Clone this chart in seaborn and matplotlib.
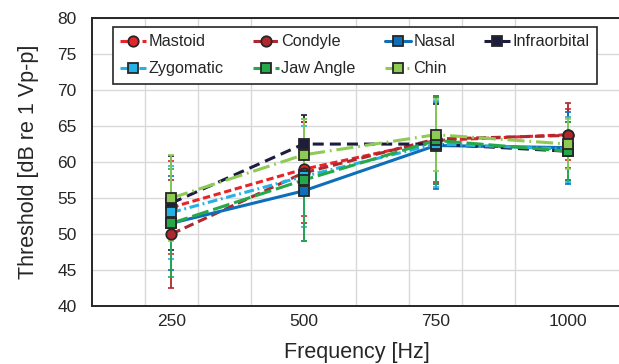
import numpy as np
import pandas as pd
import seaborn as sns
import matplotlib.pyplot as plt

sns.set_style("whitegrid")
plt.rcParams['font.family'] = ['Liberation Sans', 'DejaVu Sans']

# Data
freqs = [250, 500, 750, 1000]
sites = ['Mastoid', 'Condyle', 'Nasal', 'Infraorbital', 'Zygomatic', 'Jaw Angle', 'Chin']

mastoid = [53.7, 59.0, 63.0, 63.8]
condyle = [50.0, 58.5, 63.2, 63.7]
nasal = [51.5, 56.0, 62.3, 62.0]
infraorbital = [54.3, 62.5, 62.5, 61.5]
zygomatic = [53.0, 58.0, 62.5, 61.8]
jaw_angle = [51.5, 57.5, 63.0, 61.5]
chin = [55.0, 61.0, 63.8, 62.5]

mastoid_sd = [6.5, 6.5, 6.0, 3.5]
condyle_sd = [7.5, 7.0, 6.0, 4.5]
nasal_sd = [6.5, 7.0, 6.0, 5.0]
infraorbital_sd = [6.5, 4.0, 5.5, 4.0]
zygomatic_sd = [6.4, 7.0, 6.0, 4.5]
jaw_angle_sd = [7.5, 8.5, 6.0, 4.0]
chin_sd = [6.0, 5.0, 5.0, 3.5]

means = [mastoid, condyle, nasal, infraorbital, zygomatic, jaw_angle, chin]
sds = [mastoid_sd, condyle_sd, nasal_sd, infraorbital_sd, zygomatic_sd, jaw_angle_sd, chin_sd]

colors = ['#E8242B', '#B0282D', '#0E6FB8', '#1C1C40', '#22B2E6', '#25A84A', '#8DCB55']
markers = ['o', 'o', 's', 's', 's', 's', 's']
dash_styles = [(2.4, 1.2), (3.2, 1.6), '', (3.6, 2.0), (3.2, 1.2, 0.6, 1.2),
               (5.6, 1.6), (5.6, 1.6, 0.6, 1.6)]

fig = plt.figure(figsize=(6.19, 3.64), dpi=100)
ax = fig.add_axes([0.1486, 0.159, 0.8545, 0.7915])

handles = []
for site, m, sd, c, mk, ds in zip(sites, means, sds, colors, markers, dash_styles):
    df = pd.DataFrame({'freq': freqs, 'thr': m})
    ax.errorbar(freqs, m, yerr=sd, fmt='none', ecolor=c, elinewidth=1.3,
                capsize=2.0, capthick=1.2, zorder=2)
    sns.lineplot(data=df, x='freq', y='thr', ax=ax, color=c, lw=2.2,
                 marker=mk, markersize=7.5, markerfacecolor=c,
                 markeredgecolor='#262626', markeredgewidth=1.3,
                 label=site, zorder=3)
    line = ax.lines[-1]
    if ds:
        line.set_dashes(ds)
    else:
        line.set_linestyle('-')
    handles.append(line)

ax.set_xlim(100, 1100)
ax.set_ylim(40, 80)
ax.set_xticks(freqs)
ax.set_xticks(np.arange(200, 1101, 100), minor=True)
ax.set_yticks(np.arange(40, 81, 5))
ax.grid(False)
ax.grid(which='minor', axis='x', color='#d9d9d9', lw=1.0)
ax.grid(which='major', axis='y', color='#d9d9d9', lw=1.0)
ax.tick_params(axis='both', length=0, labelsize=12.5, labelcolor='#262626')
ax.tick_params(axis='x', pad=6)
ax.tick_params(axis='y', pad=11)

for s in ['left', 'bottom', 'top']:
    ax.spines[s].set_color('#262626')
    ax.spines[s].set_linewidth(1.4)
ax.spines['right'].set_visible(False)

ax.set_xlabel('Frequency [Hz]', fontsize=15.5, color='#262626', labelpad=9)
ax.set_ylabel('Threshold [dB re 1 Vp-p]', fontsize=15.5, color='#262626', labelpad=13)

# legend fills column-wise, so order entries to read row by row
order = [0, 4, 1, 5, 2, 6, 3]
leg = ax.legend([handles[i] for i in order], [sites[i] for i in order],
                loc='upper left', bbox_to_anchor=(0.04, 0.767, 0.915, 0.202),
                mode='expand', ncol=4, fontsize=11.7, frameon=True, fancybox=False,
                edgecolor='#262626', framealpha=1, handlelength=1.6,
                handletextpad=0.15, labelspacing=0.75, borderpad=0.45,
                borderaxespad=0, numpoints=1)
leg.get_frame().set_linewidth(1.2)
for t in leg.get_texts():
    t.set_color('#262626')

fig.savefig('out.png', dpi=100)
